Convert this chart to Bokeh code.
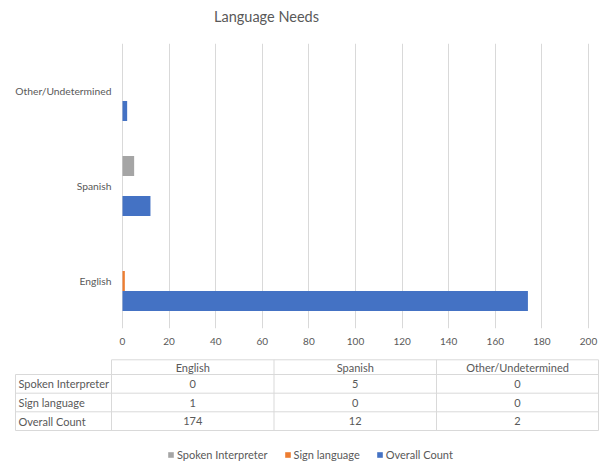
from bokeh.plotting import figure
from bokeh.layouts import column
from bokeh.models import (ColumnDataSource, FactorRange, Range1d, FixedTicker,
                          Legend, LegendItem)
from bokeh.core.properties import value
from bokeh.transform import dodge
from bokeh.embed import file_html
from bokeh.resources import INLINE

# ---------------- data ----------------
title_text = "Language Needs"
categories = ["English", "Spanish", "Other/Undetermined"]
series_names = ["Spoken Interpreter", "Sign language", "Overall Count"]
spoken = [0, 5, 0]
sign = [1, 0, 0]
overall = [174, 12, 2]
x_ticks = [0, 20, 40, 60, 80, 100, 120, 140, 160, 180, 200]

# ---------------- style / layout ----------------
FONT = "Lato"
TXT = "#595959"
GRID = "#D9D9D9"
colors = ["#A5A5A5", "#ED7D31", "#4472C4"]
W = 601
H_TITLE = 43
H_CHART = 309
H_TABLE = 114
PX_LEFT = 122      # pixel where value 0 sits
PX_RIGHT = 588     # pixel where last tick sits
k = (PX_RIGHT - PX_LEFT) / (x_ticks[-1] - x_ticks[0])
x_lo = x_ticks[0] - PX_LEFT / k
x_hi = x_ticks[0] + (W - PX_LEFT) / k

# ---------------- title strip ----------------
tt = figure(width=W, height=H_TITLE, x_range=Range1d(0, W), y_range=Range1d(H_TITLE, 0),
            x_axis_location=None, y_axis_location=None, output_backend="svg",
            toolbar_location=None, min_border=0)
tt.grid.visible = False
tt.outline_line_color = None
tt.text(x=[266], y=[16], text=[title_text], text_align="center", text_baseline="middle",
        text_font=value(FONT), text_font_size="14.5px", text_color=TXT)

# ---------------- bar chart ----------------
src = ColumnDataSource(dict(cat=categories, spoken=spoken, sign=sign, overall=overall))

p = figure(width=W, height=H_CHART, y_range=FactorRange(*categories),
           x_range=Range1d(x_lo, x_hi), y_axis_location=None, output_backend="svg",
           toolbar_location=None, min_border_left=0, min_border_right=0,
           min_border_top=0, min_border_bottom=24)
p.outline_line_color = None

bar_h = 0.21
offsets = [bar_h, 0.0, -bar_h]
fields = ["spoken", "sign", "overall"]
for f, off, c in zip(fields, offsets, colors):
    p.hbar(y=dodge("cat", off, range=p.y_range), right=f, left=0, height=bar_h,
           source=src, fill_color=c, line_color=None)

# category labels (left of the value axis)
p.text(x=[x_ticks[0] - 11 / k] * len(categories), y=categories, text=categories,
       text_align="right", text_baseline="middle", text_font=value(FONT),
       text_font_size="10.3px", text_color=TXT)

p.xaxis.ticker = FixedTicker(ticks=x_ticks)
p.xaxis.axis_line_color = None
p.xaxis.major_tick_line_color = None
p.xaxis.minor_tick_line_color = None
p.xaxis.major_label_text_font = FONT
p.xaxis.major_label_text_font_size = "10px"
p.xaxis.major_label_text_color = TXT
p.xaxis.major_label_standoff = 3
p.xgrid.grid_line_color = GRID
p.ygrid.grid_line_color = None

# ---------------- data table figure ----------------
t = figure(width=W, height=H_TABLE, x_range=Range1d(0, W), y_range=Range1d(H_TABLE, 0),
           x_axis_location=None, y_axis_location=None,
           output_backend="svg", toolbar_location=None, min_border=0)
t.grid.visible = False
t.outline_line_color = None

col_edges = [15, 111, 273.5, 436, 598]
row_edges = [7.3, 22, 40.7, 59.3, 78]

x0s, x1s, y0s, y1s = [], [], [], []
for i, y in enumerate(row_edges):
    x0s.append(col_edges[1] if i == 0 else col_edges[0])
    x1s.append(col_edges[-1]); y0s.append(y); y1s.append(y)
for j, x in enumerate(col_edges):
    x0s.append(x); x1s.append(x)
    y0s.append(row_edges[1] if j == 0 else row_edges[0]); y1s.append(row_edges[-1])
t.segment(x0=x0s, x1=x1s, y0=y0s, y1=y1s, line_color=GRID, line_width=1)

hx = [(col_edges[i + 1] + col_edges[i + 2]) / 2 for i in range(len(categories))]
hy = [(row_edges[0] + row_edges[1]) / 2] * len(categories)
t.text(x=hx, y=hy, text=categories, text_align="center", text_baseline="middle",
       text_font=value(FONT), text_font_size="11px", text_color=TXT)

series_vals = [spoken, sign, overall]
rx, ry, rt = [], [], []
vx, vy, vt = [], [], []
for r, (name, vals) in enumerate(zip(series_names, series_vals)):
    yc = (row_edges[r + 1] + row_edges[r + 2]) / 2
    rx.append(col_edges[0] + 3); ry.append(yc); rt.append(name)
    for c, v in enumerate(vals):
        vx.append((col_edges[c + 1] + col_edges[c + 2]) / 2); vy.append(yc); vt.append(str(v))
t.text(x=rx, y=ry, text=rt, text_align="left", text_baseline="middle",
       text_font=value(FONT), text_font_size="11px", text_color=TXT)
t.text(x=vx, y=vy, text=vt, text_align="center", text_baseline="middle",
       text_font=value(FONT), text_font_size="11px", text_color=TXT)

# legend swatches: renderers holding one non-drawn (NaN) point each
items = []
for name, c in zip(series_names, colors):
    r = t.rect(x=[float("nan")], y=[float("nan")], width=1, height=1,
               fill_color=c, line_color=None)
    items.append(LegendItem(label=name, renderers=[r]))
leg = Legend(items=items, orientation="horizontal", location=(167, 5),
             border_line_color=None, background_fill_alpha=0,
             label_text_font=FONT, label_text_font_size="11px", label_text_color=TXT,
             glyph_width=7, glyph_height=7, spacing=16, label_standoff=3,
             padding=0, margin=0)
t.add_layout(leg, "center")

layout = column(tt, p, t, spacing=0)
open("out.html", "w").write(file_html(layout, INLINE))
